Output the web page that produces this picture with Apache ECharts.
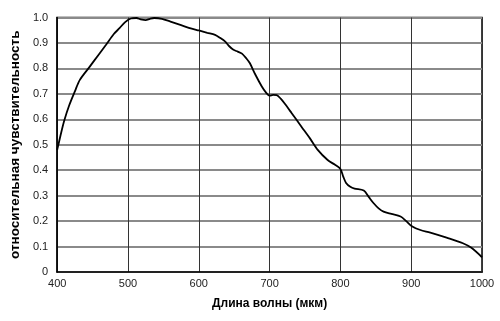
<!DOCTYPE html>
<html>
<head>
<meta charset="utf-8">
<script src="https://cdn.jsdelivr.net/npm/echarts@6/dist/echarts.min.js"></script>
<style>html,body{margin:0;padding:0;background:#fff}#c{width:500px;height:321px}</style>
</head>
<body>
<div id="c"></div>
<script>
var wavelengths = [400,405,410,417,425,432,446,458,469,480,488,496,504,512,518,525,531,537,548,560,575,590,600,612,623,630,637,643,649,655,661,667,672,680,689,695,700,705,710,716,721,731,745,757,768,782,792,800,804,808,814,820,833,840,847,854,861,872,885,893,901,913,927,950,973,985,1000];
var sensitivity = [0.48,0.54,0.595,0.655,0.71,0.755,0.807,0.852,0.893,0.935,0.958,0.982,0.996,0.998,0.993,0.99,0.995,0.998,0.995,0.984,0.97,0.956,0.949,0.94,0.932,0.92,0.906,0.887,0.873,0.866,0.858,0.84,0.821,0.775,0.729,0.705,0.693,0.696,0.695,0.68,0.663,0.625,0.571,0.525,0.48,0.44,0.422,0.405,0.375,0.35,0.335,0.328,0.32,0.295,0.27,0.25,0.237,0.228,0.218,0.2,0.18,0.165,0.155,0.135,0.113,0.095,0.058];
var xTitle = 'Длина волны (мкм)';
var yTitle = 'относительная чувствительность';

var data = wavelengths.map(function(w, i){ return [w, sensitivity[i]]; });
var chart = echarts.init(document.getElementById('c'), null, {renderer:'canvas'});
chart.setOption({
  animation: false,
  backgroundColor: '#fff',
  grid: {left: 54, right: 18, top: 17.5, bottom: 49, show: true, borderColor: '#000', borderWidth: 1.5},
  xAxis: {
    type: 'value', min: 400, max: 1000, interval: 100,
    name: xTitle, nameLocation: 'middle', nameGap: 26,
    nameTextStyle: {fontFamily: 'Liberation Sans', fontSize: 12, fontWeight: 'bold', color: '#000'},
    axisLine: {lineStyle: {color: '#000', width: 1.5}},
    axisTick: {show: false},
    axisLabel: {fontFamily: 'Liberation Sans', fontSize: 11, color: '#222', margin: 6,
      formatter: function(v){ return String(v); }},
    splitLine: {show: true, lineStyle: {color: '#333', width: 1}}
  },
  yAxis: {
    type: 'value', min: 0, max: 1, interval: 0.1,
    name: yTitle, nameLocation: 'middle', nameGap: 33, nameRotate: 90,
    nameTextStyle: {fontFamily: 'Liberation Sans', fontSize: 13.5, fontWeight: 'bold', color: '#000'},
    axisLine: {lineStyle: {color: '#000', width: 1.5}},
    axisTick: {show: false},
    axisLabel: {fontFamily: 'Liberation Sans', fontSize: 11, color: '#222', margin: 9,
      formatter: function(v){ return v === 0 ? '0' : v.toFixed(1); }},
    splitLine: {show: true, lineStyle: {color: '#8a8a8a', width: 2}}
  },
  series: [{
    type: 'line', data: data, smooth: 0.3, showSymbol: false,
    lineStyle: {color: '#000', width: 1.8}
  }]
});
</script>
</body>
</html>
